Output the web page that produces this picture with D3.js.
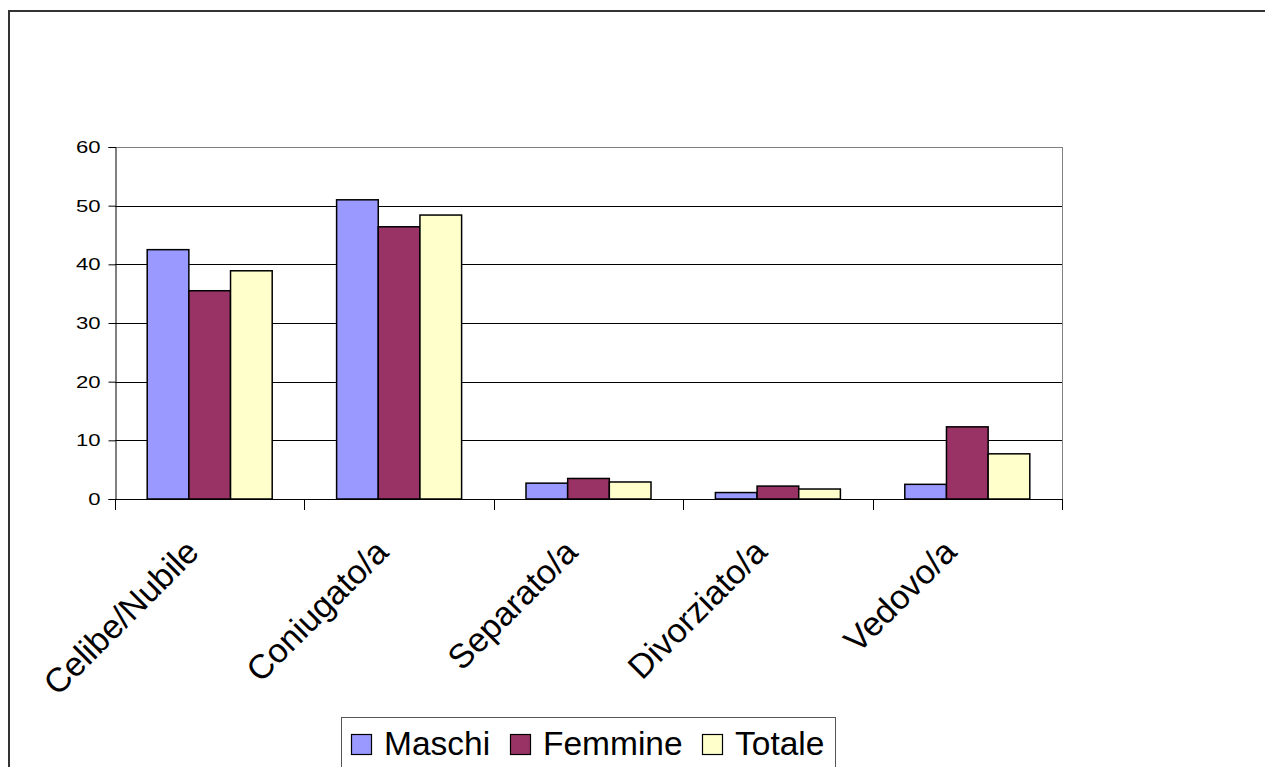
<!DOCTYPE html>
<html>
<head>
<meta charset="utf-8">
<script src="https://cdnjs.cloudflare.com/ajax/libs/d3/7.8.5/d3.min.js"></script>
<style>
  body { margin: 0; background: #fff; }
  text { font-family: Arial, "Liberation Sans", sans-serif; }
</style>
</head>
<body>
<div id="chart"></div>
<script>
// Data
var categories = ["Celibe/Nubile", "Coniugato/a", "Separato/a", "Divorziato/a", "Vedovo/a"];
var seriesNames = ["Maschi", "Femmine", "Totale"];
var maschi = [42.5, 51.0, 2.7, 1.1, 2.5];
var femmine = [35.5, 46.4, 3.5, 2.2, 12.3];
var totale = [38.9, 48.4, 2.9, 1.7, 7.7];
var yTicks = [0, 10, 20, 30, 40, 50, 60];

var colors = ["#9999FF", "#993366", "#FFFFCC"];
var seriesValues = [maschi, femmine, totale];

var svgWidth = 1265;
var svgHeight = 767;

// plot area
var plot = { left: 115, top: 147, right: 1062, bottom: 499 };
var chartWidth = plot.right - plot.left;
var chartHeight = plot.bottom - plot.top;

var svg = d3.select("#chart")
  .append("svg")
  .attr("width", svgWidth)
  .attr("height", svgHeight);

// outer chart border
svg.append("rect")
  .attr("x", 9)
  .attr("y", 11)
  .attr("width", svgWidth + 10)
  .attr("height", svgHeight + 10)
  .attr("fill", "none")
  .attr("stroke", "#333")
  .attr("stroke-width", 2);

var chartGroup = svg.append("g")
  .attr("transform", `translate(${plot.left}, ${plot.top})`);

// scales
var xScale = d3.scaleBand()
  .domain(categories)
  .range([0, chartWidth]);

var xInner = d3.scaleBand()
  .domain(seriesNames)
  .range([xScale.bandwidth() * 0.17, xScale.bandwidth() * 0.83]);

var yScale = d3.scaleLinear()
  .domain([0, 60])
  .range([chartHeight, 0]);

// gridlines
chartGroup.selectAll(".grid")
  .data(yTicks.filter(d => d > 0))
  .enter()
  .append("line")
  .attr("x1", 0)
  .attr("x2", chartWidth)
  .attr("y1", d => Math.round(yScale(d)) + 0.5)
  .attr("y2", d => Math.round(yScale(d)) + 0.5)
  .attr("stroke", d => d == 60 ? "#808080" : "#000")
  .attr("stroke-width", 1);

// right border of plot area
chartGroup.append("line")
  .attr("x1", chartWidth + 0.5)
  .attr("x2", chartWidth + 0.5)
  .attr("y1", 0)
  .attr("y2", chartHeight)
  .attr("stroke", "#808080");

// bars
var groups = chartGroup.selectAll(".cat")
  .data(categories)
  .enter()
  .append("g")
  .attr("transform", c => `translate(${xScale(c)}, 0)`);

groups.selectAll("rect")
  .data((c, i) => seriesNames.map((s, j) => ({ s: s, v: seriesValues[j][i], color: colors[j] })))
  .enter()
  .append("rect")
  .attr("x", d => xInner(d.s))
  .attr("y", d => yScale(d.v))
  .attr("width", xInner.bandwidth())
  .attr("height", d => chartHeight - yScale(d.v))
  .attr("fill", d => d.color)
  .attr("stroke", "#000")
  .attr("stroke-width", 1.5);

// axes
var leftAxis = d3.axisLeft(yScale)
  .tickValues(yTicks)
  .tickSize(7)
  .tickFormat(d3.format("d"));

var yAxisG = chartGroup.append("g")
  .attr("transform", "translate(0.5, 0)")
  .call(leftAxis);
yAxisG.select(".domain").attr("stroke", "#000");
yAxisG.selectAll(".tick line").attr("stroke", "#000");
// tick labels look wide in the original, stretch them a bit
yAxisG.selectAll(".tick text")
  .attr("x", null)
  .attr("transform", "translate(-15, 0) scale(1.3, 1)")
  .attr("font-size", "17px")
  .attr("fill", "#000")
  .style("font-family", "Arial, 'Liberation Sans', sans-serif");

// x axis line and ticks at category boundaries
chartGroup.append("line")
  .attr("x1", 0)
  .attr("x2", chartWidth)
  .attr("y1", chartHeight + 0.5)
  .attr("y2", chartHeight + 0.5)
  .attr("stroke", "#000");

var boundaries = categories.map(c => xScale(c)).concat([chartWidth]);
chartGroup.selectAll(".xtick")
  .data(boundaries)
  .enter()
  .append("line")
  .attr("x1", d => Math.round(d) + 0.5)
  .attr("x2", d => Math.round(d) + 0.5)
  .attr("y1", chartHeight)
  .attr("y2", chartHeight + 11)
  .attr("stroke", "#000");

// rotated category labels
chartGroup.selectAll(".xlabel")
  .data(categories)
  .enter()
  .append("text")
  .attr("transform", c => `translate(${xScale(c) + xScale.bandwidth() / 2 - 9}, ${chartHeight + 55}) rotate(-45)`)
  .attr("text-anchor", "end")
  .attr("font-size", "34px")
  .attr("fill", "#000")
  .text(c => c);

// legend
var legend = svg.append("g");
legend.append("rect")
  .attr("x", 341.5)
  .attr("y", 717.5)
  .attr("width", 494)
  .attr("height", 70)
  .attr("fill", "#fff")
  .attr("stroke", "#555");

var legendX = [351, 510, 702];
seriesNames.forEach(function(s, i) {
  legend.append("rect")
    .attr("x", legendX[i] + 0.5)
    .attr("y", 734.5)
    .attr("width", 20)
    .attr("height", 20)
    .attr("fill", colors[i])
    .attr("stroke", "#000")
    .attr("stroke-width", 1.2);
  legend.append("text")
    .attr("x", legendX[i] + 33)
    .attr("y", 755)
    .attr("font-size", "33.5px")
    .attr("fill", "#000")
    .text(s);
});
</script>
</body>
</html>
